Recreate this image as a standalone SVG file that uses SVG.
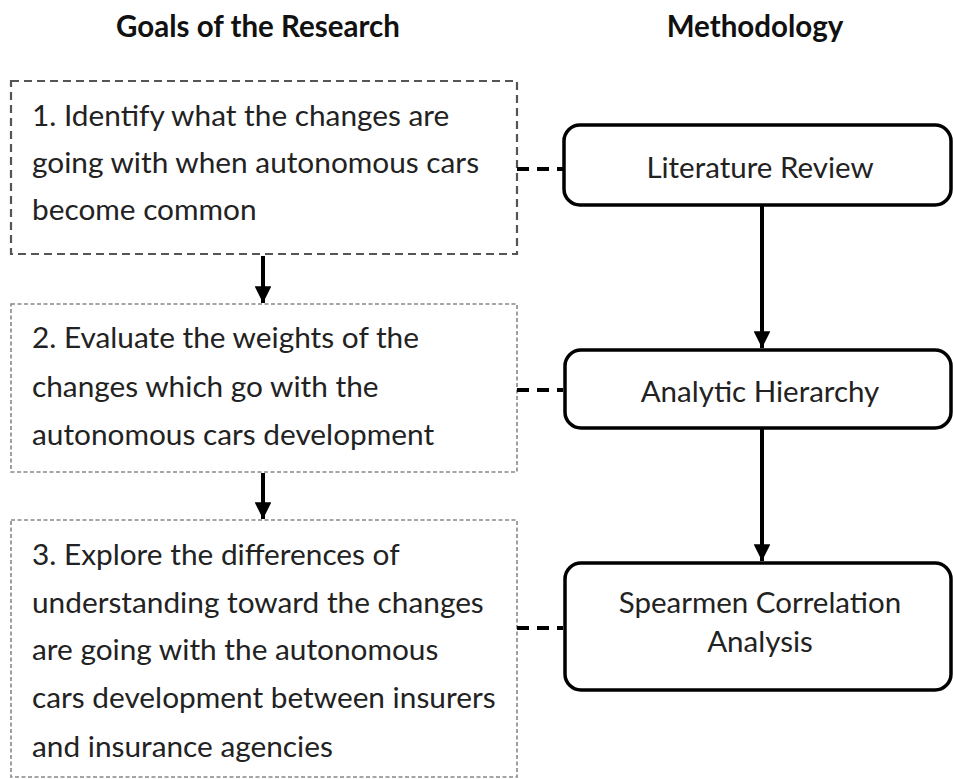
<svg xmlns="http://www.w3.org/2000/svg" width="953" height="779" viewBox="0 0 953 779">
<style>
text{font-family:Lato,"Liberation Sans",sans-serif;fill:#222;}
.h{font-weight:bold;font-size:29.5px;fill:#111;text-anchor:middle;}
.g{font-size:29.8px;}
.m{font-size:29.5px;text-anchor:middle;}
.b1{fill:none;stroke:#555;stroke-width:2.2;stroke-dasharray:8 5;}
.b2{fill:none;stroke:#888;stroke-width:1.6;stroke-dasharray:4 2.5;}
.r{fill:#fff;stroke:#000;stroke-width:3.5;}
.c{stroke:#000;stroke-width:4;fill:none;}
.d{stroke:#000;stroke-width:4;stroke-dasharray:12 8;fill:none;}
</style>
<defs>
<marker id="ah" viewBox="0 0 10 10" refX="10" refY="5" markerWidth="4.2" markerHeight="4.2" orient="auto" markerUnits="strokeWidth">
<path d="M0,0 L10,5 L0,10 z" fill="#000"/>
</marker>
</defs>
<text class="h" x="258" y="37">Goals of the Research</text>
<text class="h" x="755" y="37">Methodology</text>
<g id="goal1">
<rect class="b1" x="11" y="81" width="506" height="173"/>
<text class="g" x="32" y="126">1. Identify what the changes are</text>
<text class="g" x="32" y="173">going with when autonomous cars</text>
<text class="g" x="32" y="220">become common</text>
</g>
<g id="goal2">
<rect class="b2" x="11" y="304" width="506" height="168"/>
<text class="g" x="32" y="348">2. Evaluate the weights of the</text>
<text class="g" x="32" y="397">changes which go with the</text>
<text class="g" x="32" y="445">autonomous cars development</text>
</g>
<g id="goal3">
<rect class="b2" x="11" y="520" width="506" height="257"/>
<text class="g" x="32" y="565">3. Explore the differences of</text>
<text class="g" x="32" y="613">understanding toward the changes</text>
<text class="g" x="32" y="660">are going with the autonomous</text>
<text class="g" x="32" y="708">cars development between insurers</text>
<text class="g" x="32" y="757">and insurance agencies</text>
</g>
<g id="lit">
<rect class="r" x="564" y="125" width="387" height="80" rx="16"/>
<text class="m" x="760" y="178">Literature Review</text>
</g>
<g id="ahp">
<rect class="r" x="565" y="350" width="386" height="78" rx="16"/>
<text class="m" x="760" y="402">Analytic Hierarchy</text>
</g>
<g id="spear">
<rect class="r" x="565" y="563" width="386" height="127" rx="16"/>
<text class="m" x="760" y="613">Spearmen Correlation</text>
<text class="m" x="760" y="652">Analysis</text>
</g>
<g id="connectors">
<line class="c" x1="263" y1="256" x2="263" y2="303" marker-end="url(#ah)"/>
<line class="c" x1="263" y1="473" x2="263" y2="519" marker-end="url(#ah)"/>
<line class="c" x1="762" y1="206" x2="762" y2="348" marker-end="url(#ah)"/>
<line class="c" x1="762" y1="429" x2="762" y2="561" marker-end="url(#ah)"/>
<line class="d" x1="517" y1="169" x2="563" y2="169"/>
<line class="d" x1="517" y1="390" x2="563" y2="390"/>
<line class="d" x1="517" y1="628" x2="563" y2="628"/>
</g>
</svg>
